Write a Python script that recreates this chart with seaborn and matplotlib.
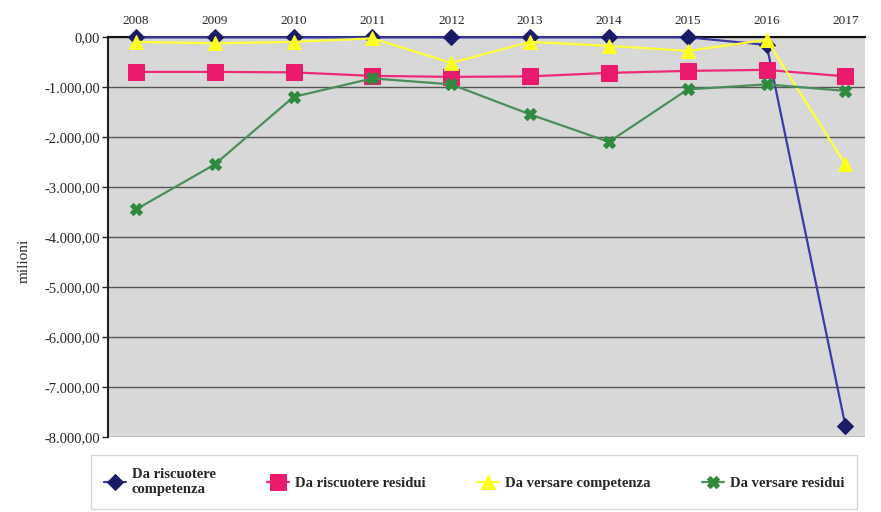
import numpy as np
import pandas as pd
import seaborn as sns
import matplotlib.pyplot as plt
from matplotlib.ticker import FuncFormatter

years = [2008, 2009, 2010, 2011, 2012, 2013, 2014, 2015, 2016, 2017]
riscuotere_comp = [-10, -10, -10, -10, -10, -10, -10, -10, -160, -7780]
riscuotere_res = [-700, -700, -710, -780, -800, -790, -720, -680, -660, -790]
versare_comp = [-100, -130, -100, -30, -520, -100, -180, -280, -60, -2550]
versare_res = [-3450, -2550, -1200, -830, -950, -1550, -2100, -1050, -950, -1080]

labels = ['Da riscuotere\ncompetenza', 'Da riscuotere residui',
          'Da versare competenza', 'Da versare residui']

sns.set_theme(style="white")
plt.rcParams['font.family'] = ['Liberation Serif', 'DejaVu Serif']

fig = plt.figure(figsize=(8.81, 5.12), dpi=100)
ax = fig.add_axes([0.123, 0.1465, 0.859, 0.7815])
ax.set_facecolor('#d8d8d8')

idx = np.arange(len(years))
series = [
    (riscuotere_comp, '#3b3ba8', 'D', '#1c1c66', 8),
    (riscuotere_res, '#ee2a78', 's', '#ea1a6e', 11),
    (versare_comp, '#ffff3a', '^', '#ffff20', 10),
    (versare_res, '#4a8f5a', 'X', '#2f8a3e', 9),
]
for (vals, lc, mk, mc, ms), lab in zip(series, labels):
    sns.lineplot(x=idx, y=vals, ax=ax, color=lc, marker=mk, markersize=ms,
                 markerfacecolor=mc, markeredgecolor=mc, linewidth=1.6,
                 label=lab, clip_on=False, zorder=3)

ax.set_ylim(-8000, 0)
ax.set_xlim(-0.35, 9.25)
ax.set_yticks(np.arange(-8000, 1, 1000))
ax.yaxis.set_major_formatter(FuncFormatter(
    lambda v, p: f"{v:,.2f}".replace(',', 'X').replace('.', ',').replace('X', '.')))
ax.set_xticks(idx)
ax.set_xticklabels([str(y) for y in years], fontsize=9.5)
ax.xaxis.tick_top()
ax.tick_params(axis='x', length=0, pad=7)
ax.tick_params(axis='y', left=True, length=4, width=1, labelsize=10.5, pad=2)
ax.grid(axis='y', color='#555555', linewidth=1)
ax.set_axisbelow(True)
for s in ['right', 'bottom']:
    ax.spines[s].set_visible(False)
ax.spines['left'].set_color('#222222')
ax.spines['left'].set_linewidth(1.5)
ax.spines['top'].set_color('#111111')
ax.spines['top'].set_linewidth(1.5)
ax.set_ylabel('milioni', fontsize=11)
ax.yaxis.set_label_coords(-0.103, 0.44)
ax.set_xlabel('')

handles, labs = ax.get_legend_handles_labels()
ax.get_legend().remove()
leg = fig.legend(handles, labs, loc='upper left', bbox_to_anchor=(0.103, 0.111, 0.87, 0.0),
                 mode='expand', ncol=4, frameon=True, fancybox=False,
                 edgecolor='#cccccc', handlelength=1.5, handletextpad=0.4,
                 borderpad=0.9, borderaxespad=0.0,
                 prop={'weight': 'bold', 'size': 10.5})

fig.savefig('out.png', dpi=100)
